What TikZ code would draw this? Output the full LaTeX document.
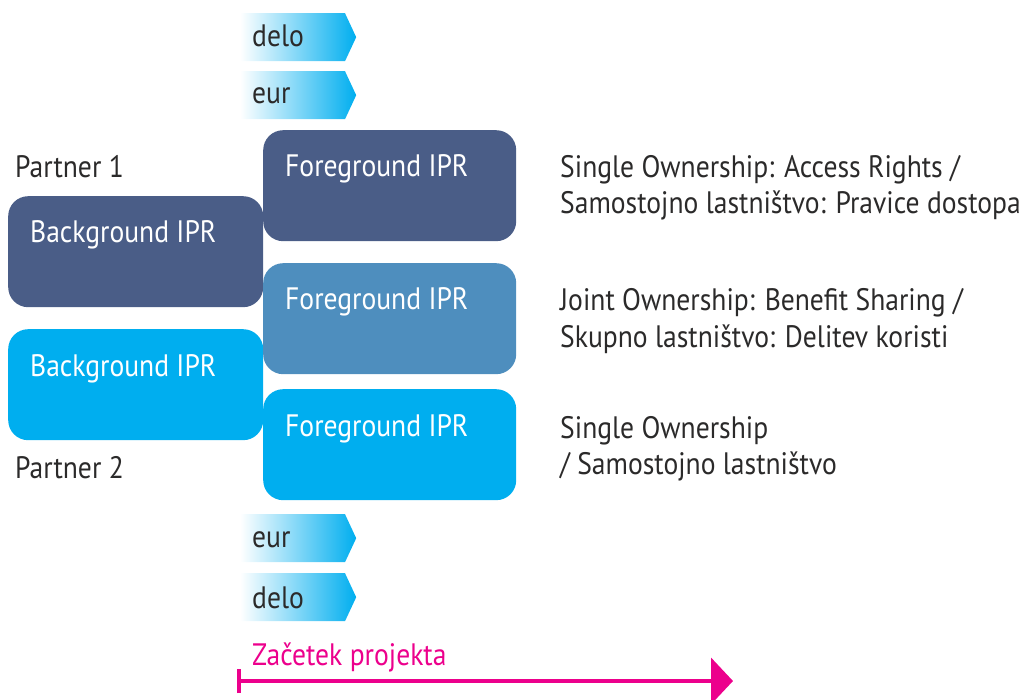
\documentclass[tikz,border=0pt]{standalone}
\usepackage{fontspec}
\setmainfont{PT Sans}[FakeStretch=0.89]
\usetikzlibrary{shapes.symbols,arrows.meta,positioning}

\definecolor{iprdark}{HTML}{4A5D87}
\definecolor{iprmid}{HTML}{4E8EBE}
\definecolor{iprcyan}{HTML}{00AEEF}
\definecolor{iprtext}{HTML}{2B2A2A}
\definecolor{iprpink}{HTML}{EC008C}

\tikzset{
  iprbox/.style={rounded corners=20pt, minimum width=253pt, minimum height=111pt,
    inner sep=0pt, anchor=north west},
  boxtext/.style={text=white, anchor=base west, inner sep=0pt},
  flowtag/.style={signal, signal to=east, signal pointer angle=130,
    left color=white, middle color=iprcyan!65, right color=iprcyan,
    minimum width=116pt, minimum height=48pt, inner sep=0pt, anchor=north west},
  tagtext/.style={text=iprtext, anchor=base west, inner sep=0pt},
  note/.style={text=iprtext, anchor=base west, inner sep=0pt, align=left}
}

\begin{document}
\begin{tikzpicture}[x=1pt, y=-1pt,
    every node/.append style={font=\fontsize{31}{36}\selectfont}]
  \useasboundingbox (0,0) rectangle (1030,700);

  % Money and work flowing in (top)
  \node[flowtag] (tagdelotop) at (240,13) {};
  \node[tagtext] (tagdelotoptext) at (252,47) {delo};
  \node[flowtag] (tageurtop) at (240,71) {};
  \node[tagtext] (tageurtoptext) at (252,104) {eur};

  % Partner 1
  \node[anchor=base west, inner sep=0pt, text=iprtext] (partnerone) at (15,178) {Partner 1};
  \node[iprbox, fill=iprdark, minimum width=255pt] (bgone) at (8,196) {};
  \node[boxtext] (bgonetext) at (30,243) {Background IPR};

  % Partner 2
  \node[iprbox, fill=iprcyan, minimum width=255pt] (bgtwo) at (8,329) {};
  \node[boxtext] (bgtwotext) at (30,376) {Background IPR};
  \node[anchor=base west, inner sep=0pt, text=iprtext] (partnertwo) at (15,478) {Partner 2};

  % Foreground results
  \node[iprbox, fill=iprdark] (fgone) at (263,130) {};
  \node[boxtext] (fgonetext) at (285,177) {Foreground IPR};
  \node[iprbox, fill=iprmid] (fgtwo) at (263,263) {};
  \node[boxtext] (fgtwotext) at (285,310) {Foreground IPR};
  \node[iprbox, fill=iprcyan] (fgthree) at (263,389) {};
  \node[boxtext] (fgthreetext) at (285,436) {Foreground IPR};

  % Ownership notes (base = last line)
  \node[note] (noteone) at (560,214) {Single Ownership: Access Rights /\\Samostojno lastništvo: Pravice dostopa};
  \node[note] (notetwo) at (560,347) {Joint Ownership: Benefit Sharing /\\Skupno lastništvo: Delitev koristi};
  \node[note] (notethree) at (560,474) {Single Ownership\\/ Samostojno lastništvo};

  % Money and work flowing in (bottom)
  \node[flowtag] (tageurbot) at (240,514) {};
  \node[tagtext] (tageurbottext) at (252,547) {eur};
  \node[flowtag] (tagdelobot) at (240,573) {};
  \node[tagtext] (tagdelobottext) at (252,608) {delo};

  % Project timeline
  \coordinate (projstart) at (237,681);
  \coordinate (projend) at (733,681);
  \draw[iprpink, line width=4pt, {Bar[width=24pt]}-{Triangle[length=22pt,width=46pt]}] (projstart) -- (projend);
  \node[anchor=base west, inner sep=0pt, text=iprpink] (projlabel) at (252,665) {Začetek projekta};
\end{tikzpicture}
\end{document}
